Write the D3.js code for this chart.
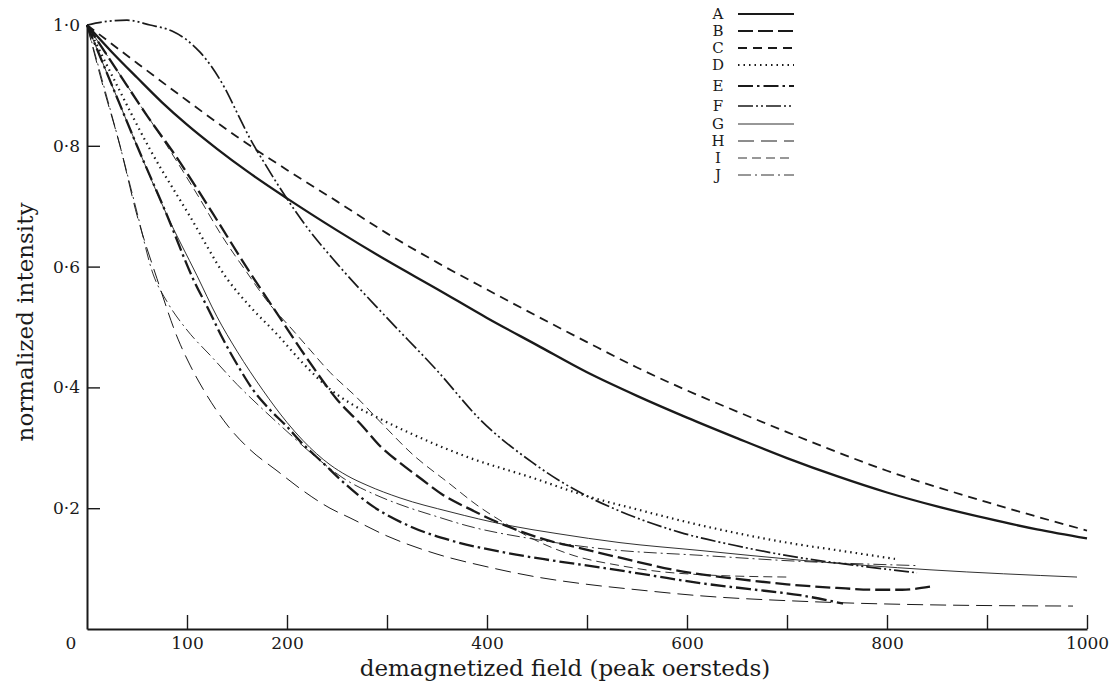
<!DOCTYPE html>
<html>
<head>
<meta charset="utf-8">
<script src="https://cdn.jsdelivr.net/npm/d3@7"></script>
<style>
  body { margin: 0; background: #fff; }
  svg text { font-family: "DejaVu Serif", "Liberation Serif", serif; fill: #1a1a1a; }
</style>
</head>
<body>
<div id="chart"></div>
<script>
const width = 1119, height = 686;

// curves: [field (peak oersteds), normalized intensity]
const curveA = [[0,1],[25,0.955],[50,0.913],[75,0.872],[100,0.835],[130,0.795],[160,0.758],[200,0.713],[250,0.66],[300,0.61],[350,0.563],[400,0.515],[450,0.47],[500,0.425],[550,0.386],[600,0.35],[650,0.316],[700,0.283],[750,0.253],[800,0.226],[850,0.203],[900,0.183],[950,0.165],[1000,0.15]];
const curveB = [[0,1],[30,0.925],[60,0.85],[90,0.78],[125,0.69],[163,0.59],[193,0.515],[220,0.448],[250,0.38],[276,0.335],[293,0.303],[313,0.275],[333,0.25],[356,0.222],[386,0.196],[406,0.18],[433,0.162],[460,0.147],[493,0.134],[533,0.118],[596,0.095],[650,0.083],[700,0.074],[750,0.068],[790,0.065],[815,0.065],[843,0.07]];
const curveC = [[0,1],[50,0.937],[100,0.875],[150,0.815],[200,0.76],[250,0.708],[300,0.655],[350,0.607],[400,0.562],[450,0.518],[500,0.475],[550,0.433],[600,0.395],[650,0.36],[700,0.326],[750,0.293],[800,0.262],[850,0.235],[900,0.21],[950,0.186],[1000,0.163]];
const curveD = [[0,1],[30,0.9],[63,0.794],[103,0.683],[140,0.58],[163,0.534],[190,0.488],[216,0.44],[243,0.397],[265,0.372],[293,0.348],[326,0.322],[380,0.285],[446,0.25],[496,0.222],[550,0.198],[613,0.172],[700,0.143],[760,0.128],[808,0.116]];
const curveE = [[0,1],[25,0.9],[50,0.8],[80,0.685],[106,0.58],[123,0.524],[136,0.48],[153,0.43],[166,0.396],[183,0.363],[200,0.335],[216,0.306],[236,0.275],[253,0.248],[286,0.203],[323,0.17],[363,0.147],[413,0.128],[463,0.114],[513,0.102],[563,0.089],[613,0.076],[663,0.066],[713,0.056],[756,0.042]];
const curveF = [[0,1],[20,1.006],[40,1.008],[63,1.0],[85,0.99],[100,0.975],[113,0.955],[125,0.93],[138,0.895],[150,0.855],[163,0.812],[178,0.77],[193,0.73],[220,0.665],[250,0.605],[300,0.515],[350,0.428],[393,0.347],[446,0.275],[473,0.245],[500,0.22],[533,0.195],[593,0.16],[646,0.139],[713,0.118],[780,0.103],[830,0.093]];
const curveG = [[0,1],[25,0.9],[50,0.8],[80,0.685],[110,0.585],[130,0.517],[150,0.46],[176,0.395],[200,0.342],[216,0.312],[243,0.272],[260,0.254],[280,0.238],[313,0.217],[363,0.194],[420,0.172],[470,0.158],[533,0.143],[613,0.13],[713,0.114],[843,0.098],[990,0.086]];
const curveH = [[0,1],[15,0.905],[33,0.8],[50,0.685],[70,0.58],[91,0.48],[103,0.437],[118,0.392],[141,0.336],[163,0.297],[190,0.262],[216,0.229],[243,0.2],[263,0.184],[300,0.154],[350,0.124],[400,0.103],[450,0.086],[500,0.074],[550,0.065],[613,0.055],[713,0.046],[843,0.04],[986,0.038]];
const curveI = [[0,1],[40,0.9],[80,0.8],[110,0.72],[136,0.648],[160,0.59],[183,0.537],[203,0.5],[220,0.468],[243,0.425],[270,0.383],[295,0.34],[325,0.29],[363,0.24],[390,0.205],[420,0.173],[446,0.149],[486,0.122],[533,0.105],[563,0.097],[613,0.09],[700,0.086]];
const curveJ = [[0,1],[15,0.91],[33,0.8],[50,0.69],[66,0.588],[80,0.542],[100,0.495],[125,0.45],[150,0.405],[175,0.365],[200,0.327],[225,0.29],[256,0.25],[293,0.219],[313,0.206],[350,0.186],[380,0.171],[446,0.149],[520,0.132],[613,0.122],[713,0.112],[830,0.105]];

const labels = ["A", "B", "C", "D", "E", "F", "G", "H", "I", "J"];
const curves = [curveA, curveB, curveC, curveD, curveE, curveF, curveG, curveH, curveI, curveJ];
const xTicks = [100, 200, 300, 400, 500, 600, 700, 800, 900, 1000];
const xTickLabels = ["100", "200", "", "400", "", "600", "", "800", "", "1000"];
const yTicks = [0.2, 0.4, 0.6, 0.8, 1.0];

// line look for each curve (width, dash pattern)
const lineStyle = {
  A: { w: 2.3, dash: null },
  B: { w: 2.3, dash: "15,5" },
  C: { w: 1.8, dash: "9,6" },
  D: { w: 2.2, dash: "1.5,4" },
  E: { w: 2.3, dash: "15,4,2.5,4" },
  F: { w: 1.7, dash: "15,3,2,3,2,3" },
  G: { w: 0.9, dash: null },
  H: { w: 1.0, dash: "16,7" },
  I: { w: 0.9, dash: "9,5" },
  J: { w: 0.9, dash: "13,4,2,4" }
};
// legend rows are stacked tight, with a little more room round E and F
const legendRowY = [14, 31, 48, 65, 86, 106, 124, 141, 158, 175];

const svg = d3.select("#chart").append("svg")
    .attr("width", width)
    .attr("height", height);

const x = d3.scaleLinear().domain([0, 1000]).range([87, 1087]);
const y = d3.scaleLinear().domain([0, 1]).range([629, 25]);

const xAxis = svg.append("g")
    .attr("transform", `translate(0,${y(0)})`)
    .call(d3.axisBottom(x)
        .tickValues(xTicks)
        .tickSizeInner(-14)
        .tickSizeOuter(0)
        .tickPadding(8)
        .tickFormat((d, i) => xTickLabels[i]));

const yAxis = svg.append("g")
    .attr("transform", `translate(${x(0)},0)`)
    .call(d3.axisLeft(y)
        .tickValues(yTicks)
        .tickSizeInner(-13)
        .tickSizeOuter(0)
        .tickPadding(7)
        .tickFormat(d => d3.format(".1f")(d).replace(".", "\u00B7")));

yAxis.selectAll(".tick").filter(d => d === 1).select("line").remove();

[xAxis, yAxis].forEach(a => {
  a.attr("font-family", null).attr("font-size", 17);
  a.select(".domain").attr("stroke", "#1a1a1a").attr("stroke-width", 2);
  a.selectAll(".tick line").attr("stroke", "#1a1a1a").attr("stroke-width", 1.4);
  a.selectAll(".tick text").attr("fill", "#1a1a1a");
});

svg.append("text")
    .attr("x", x(0) - 16)
    .attr("y", y(0) + 20)
    .attr("text-anchor", "middle")
    .attr("font-size", 17)
    .text("0");

svg.append("text")
    .attr("x", 565)
    .attr("y", 676)
    .attr("text-anchor", "middle")
    .attr("font-size", 23)
    .text("demagnetized field (peak oersteds)");

svg.append("text")
    .attr("transform", "translate(33,322) rotate(-90)")
    .attr("text-anchor", "middle")
    .attr("font-size", 23)
    .text("normalized intensity");

const line = d3.line()
    .x(d => x(d[0]))
    .y(d => y(d[1]))
    .curve(d3.curveMonotoneX);

svg.append("g")
  .selectAll("path")
  .data(curves)
  .join("path")
    .attr("fill", "none")
    .attr("stroke", "#1a1a1a")
    .attr("stroke-width", (d, i) => lineStyle[labels[i]].w)
    .attr("stroke-dasharray", (d, i) => lineStyle[labels[i]].dash)
    .attr("d", line);

// legend
const rows = svg.append("g")
  .selectAll("g")
  .data(labels)
  .join("g")
    .attr("transform", (d, i) => `translate(0,${legendRowY[i]})`);
rows.append("text")
    .attr("x", 718)
    .attr("dy", "0.36em")
    .attr("text-anchor", "middle")
    .attr("font-size", 15)
    .text(d => d);
rows.append("line")
    .attr("x1", 738)
    .attr("x2", 794)
    .attr("stroke", "#1a1a1a")
    .attr("stroke-width", d => Math.min(lineStyle[d].w, 1.8))
    .attr("stroke-dasharray", d => lineStyle[d].dash);
</script>
</body>
</html>
